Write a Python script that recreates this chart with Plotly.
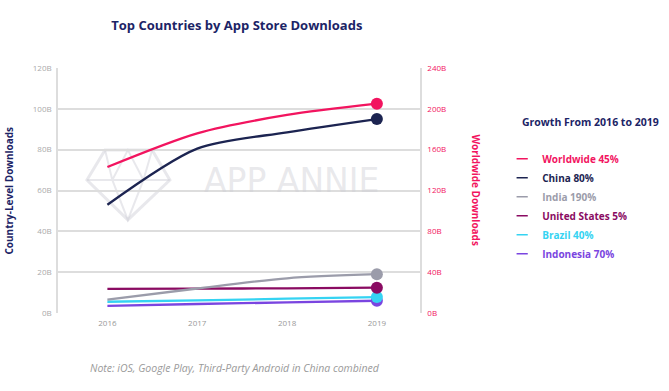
import plotly.graph_objects as go

years = [2016, 2017, 2018, 2019]
worldwide = [143, 176, 194, 205]      # right axis, billions
china = [53, 80.5, 88.5, 95]
india = [6.5, 12, 17, 19]
united_states = [11.8, 11.9, 12.1, 12.4]
brazil = [5.5, 6.2, 7.0, 7.8]
indonesia = [3.5, 4.4, 5.2, 6.0]

series = [
    ("Worldwide 45%", worldwide, "#F2145F", "y2"),
    ("China 80%", china, "#1C2451", "y"),
    ("India 190%", india, "#9B9CAA", "y"),
    ("United States 5%", united_states, "#8A0B62", "y"),
    ("Brazil 40%", brazil, "#35D3F2", "y"),
    ("Indonesia 70%", indonesia, "#7A45E0", "y"),
]

left_ticks = [0, 20, 40, 60, 80, 100, 120]
left_labels = ["0B", "20B", "40B", "60B", "80B", "100B", "120B"]
right_ticks = [0, 40, 80, 120, 160, 200, 240]
right_labels = ["0B", "40B", "80B", "120B", "160B", "200B", "240B"]

FONT = "Open Sans"
WM = "rgba(205,205,212,0.45)"
fig = go.Figure()

for name, vals, color, ax in reversed(series):
    fig.add_trace(go.Scatter(
        x=years, y=vals, yaxis=ax, mode="lines",
        line=dict(color=color, width=2.3, shape="spline", smoothing=0.8),
        showlegend=False, hoverinfo="skip"))
    fig.add_trace(go.Scatter(
        x=[years[-1]], y=[vals[-1]], yaxis=ax, mode="markers",
        marker=dict(color=color, size=12), showlegend=False))

for name, vals, color, ax in series:
    fig.add_trace(go.Scatter(
        x=[None], y=[None], mode="markers", yaxis=ax,
        marker=dict(symbol="line-ew", size=8, color=color,
                    line=dict(color=color, width=1.5)),
        name=f"<b><span style='color:{color}'>{name}</span></b>"))

fig.update_layout(
    width=669, height=391,
    margin=dict(l=58, r=249, t=68, b=78),
    paper_bgcolor="white", plot_bgcolor="white",
    font=dict(family=FONT, size=9, color="#9a9a9a"),
    title=dict(text="<b>Top Countries by App Store Downloads</b>",
               x=0.354, xanchor="center", y=0.936, yanchor="middle",
               font=dict(family=FONT, size=13, color="#1C2466")),
    xaxis=dict(range=[2015.45, 2019.48], tickvals=years,
               ticktext=[str(y) for y in years], showgrid=False,
               zeroline=False, showline=False,
               tickfont=dict(size=8, color="#999999"), ticks="",
               ticklabelstandoff=4),
    yaxis=dict(range=[0, 120], tickvals=left_ticks, ticktext=left_labels,
               showgrid=True, gridcolor="#dddddd", gridwidth=1.5,
               zeroline=False, showline=True, linecolor="#dddddd", linewidth=1.5,
               tickfont=dict(size=8, color="#aaaaaa"), ticks="",
               ticklabelstandoff=3),
    yaxis2=dict(range=[0, 240], tickvals=right_ticks, ticktext=right_labels,
                overlaying="y", side="right", showgrid=False, zeroline=False,
                showline=True, linecolor="#dddddd", linewidth=1.5,
                tickfont=dict(size=8, color="#F2145F"), ticks="",
                ticklabelstandoff=4),
    legend=dict(x=1.227, xanchor="left", y=0.689, yanchor="top",
                font=dict(size=10, color="#1C2466"),
                itemwidth=30, tracegroupgap=4, bgcolor="rgba(0,0,0,0)"),
    annotations=[
        dict(text="<b>Growth From 2016 to 2019</b>", xref="paper", yref="paper",
             x=1.276, y=0.78, xanchor="left", yanchor="middle", showarrow=False,
             font=dict(family=FONT, size=10.5, color="#1C2466")),
        dict(text="<b>Country-Level Downloads</b>", xref="paper", yref="paper",
             x=-0.138, y=0.5, xanchor="center", yanchor="middle",
             textangle=-90, showarrow=False,
             font=dict(family=FONT, size=10, color="#1C2466")),
        dict(text="<b>Worldwide Downloads</b>", xref="paper", yref="paper",
             x=1.155, y=0.5, xanchor="center", yanchor="middle",
             textangle=90, showarrow=False,
             font=dict(family=FONT, size=10, color="#F2145F")),
        dict(text="APP ANNIE", xref="paper", yref="paper", x=0.644, y=0.539,
             xanchor="center", yanchor="middle", showarrow=False,
             font=dict(family="DejaVu Sans", size=33, color=WM)),
        dict(text="<i>Note: iOS, Google Play, Third-Party Android in China combined</i>",
             xref="paper", yref="paper", x=0.49, y=-0.2245,
             xanchor="center", yanchor="middle", showarrow=False,
             font=dict(family=FONT, size=10.5, color="#9a9a9a")),
    ],
    shapes=[
        dict(type="path", xref="paper", yref="paper",
             path="M 0.130 0.665 L 0.260 0.665 L 0.309 0.543 L 0.193 0.380 "
                  "L 0.080 0.543 Z",
             line=dict(color=WM, width=3), fillcolor="rgba(0,0,0,0)",
             layer="below"),
        dict(type="path", xref="paper", yref="paper",
             path="M 0.080 0.543 L 0.309 0.543 M 0.130 0.665 L 0.150 0.543 "
                  "L 0.193 0.380 L 0.236 0.543 L 0.260 0.665 "
                  "M 0.150 0.543 L 0.193 0.665 L 0.236 0.543",
             line=dict(color=WM, width=2), layer="below"),
    ],
)

fig.write_html("out.html",
               config={"displayModeBar": False},
               post_script="document.body.style.margin='0';")
